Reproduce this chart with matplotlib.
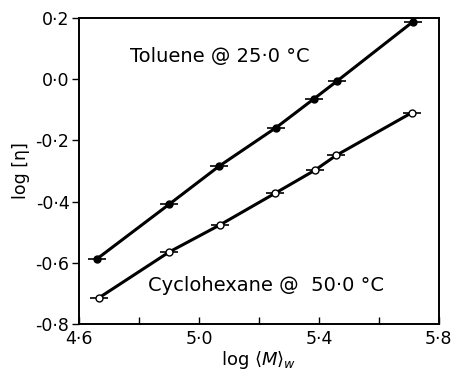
import matplotlib
matplotlib.use("Agg")
import matplotlib.pyplot as plt
from matplotlib.ticker import FuncFormatter

# log <M>_w and log [eta] read for both solvents
tol_x = [4.66, 4.90, 5.067, 5.257, 5.383, 5.46, 5.713]
tol_y = [-0.587, -0.409, -0.284, -0.158, -0.064, -0.006, 0.188]
cyc_x = [4.667, 4.90, 5.07, 5.253, 5.387, 5.457, 5.71]
cyc_y = [-0.714, -0.565, -0.476, -0.373, -0.297, -0.249, -0.109]
x_err = 0.03

x_ticks = [4.6, 5.0, 5.4, 5.8]
y_ticks = [-0.8, -0.6, -0.4, -0.2, 0.0, 0.2]

plt.rcParams['font.family'] = ['DejaVu Sans']

fig = plt.figure(figsize=(4.52, 3.78), dpi=100)
ax = fig.add_axes([0.175, 0.143, 0.796, 0.809])

ax.plot(tol_x, tol_y, color='k', lw=2.2, solid_capstyle='round')
ax.plot(cyc_x, cyc_y, color='k', lw=2.2, solid_capstyle='round')
ax.errorbar(tol_x, tol_y, xerr=x_err, fmt='o', ms=5, mfc='k', mec='k',
            ecolor='k', elinewidth=1.2, capsize=0)
ax.errorbar(cyc_x, cyc_y, xerr=x_err, fmt='o', ms=5, mfc='white', mec='k',
            mew=1.0, ecolor='k', elinewidth=1.2, capsize=0, zorder=3)

ax.set_xlim(4.6, 5.8)
ax.set_ylim(-0.8, 0.2)

fmt = FuncFormatter(lambda v, p: ('%.1f' % v).replace('.', '\u00b7').replace('-', '-'))
ax.set_xticks(x_ticks)
ax.set_xticks([4.8, 5.2, 5.6], minor=True)
ax.set_yticks(y_ticks)
ax.xaxis.set_major_formatter(fmt)
ax.yaxis.set_major_formatter(fmt)
ax.tick_params(axis='x', which='both', direction='in', length=5, width=1, labelsize=12.5, pad=4)
ax.tick_params(axis='y', direction='out', length=5, width=1, labelsize=12.5, pad=2)

for s in ax.spines.values():
    s.set_linewidth(1.4)

ax.set_xlabel(r'log $\langle M\rangle_w$', fontsize=13, labelpad=1)
ax.set_ylabel('log [\u03b7]', fontsize=12.5, labelpad=4)

ax.text(4.77, 0.076, 'Toluene @ 25\u00b70 \u00b0C', fontsize=14, va='center')
ax.text(4.83, -0.673, 'Cyclohexane @  50\u00b70 \u00b0C', fontsize=14, va='center')

fig.savefig('out.png', dpi=100)
